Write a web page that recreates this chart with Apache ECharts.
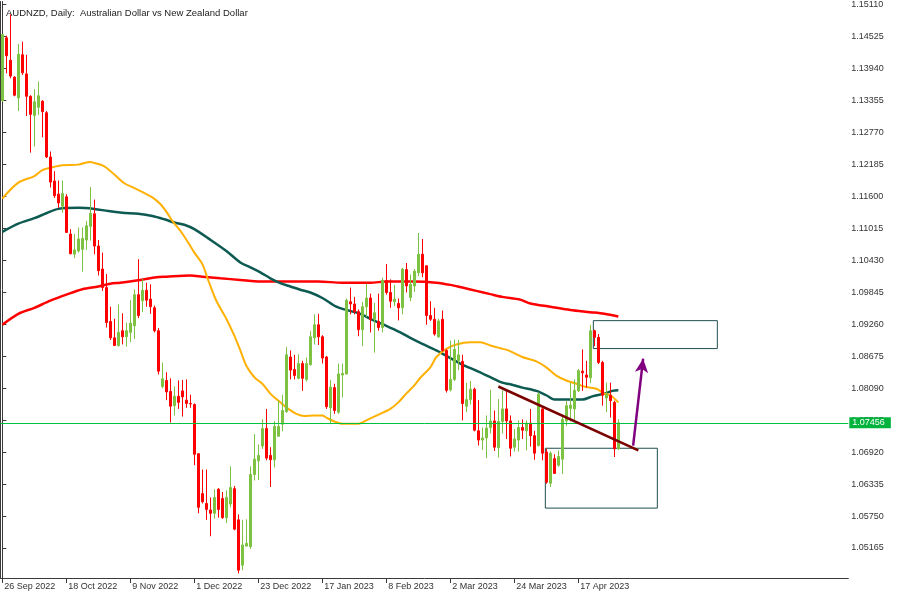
<!DOCTYPE html>
<html>
<head>
<meta charset="utf-8">
<script src="https://cdn.jsdelivr.net/npm/echarts@6/dist/echarts.min.js"></script>
<style>
html,body{margin:0;padding:0;background:#fff;}
#chart{width:900px;height:600px;}
</style>
</head>
<body>
<div id="chart"></div>
<script>
// ---------- DATA ----------
const titleText = 'AUDNZD, Daily:  Australian Dollar vs New Zealand Dollar';
const tickLabels = ['26 Sep 2022','18 Oct 2022','9 Nov 2022','1 Dec 2022','23 Dec 2022','17 Jan 2023','8 Feb 2023','2 Mar 2023','24 Mar 2023','17 Apr 2023'];
const priceLabels = [1.15110,1.14525,1.13940,1.13355,1.12770,1.12185,1.11600,1.11015,1.10430,1.09845,1.09260,1.08675,1.08090,1.07505,1.06920,1.06335,1.05750,1.05165];
const startDate = '2022-09-26';
const holidays = ['2022-12-26'];
const totalSlots = 212;
const currentPrice = 1.07456;

const opens = [1.1335,1.1450,1.1409,1.1378,1.1340,1.1419,1.1384,1.1343,1.1308,1.1323,
1.1334,1.1313,1.1232,1.1188,1.1164,1.1142,1.1159,1.1091,1.1054,1.1060,
1.1063,1.1080,1.1105,1.1128,1.1069,1.1027,1.0993,1.0931,1.0901,1.0887,
1.0914,1.0903,1.0911,1.0923,1.0980,1.0969,1.0988,1.0972,1.0956,1.0914,
1.0812,1.0823,1.0803,1.0777,1.0794,1.0804,1.0787,1.0781,1.0779,1.0689,
1.0616,1.0598,1.0586,1.0580,1.0624,1.0607,1.0572,1.0597,1.0625,1.0568,
1.0485,1.0520,1.0519,1.0651,1.0676,1.0703,1.0735,1.0686,1.0678,1.0721,
1.0743,1.0766,1.0866,1.0843,1.0827,1.0854,1.0825,1.0852,1.0901,1.0925,
1.0903,1.0866,1.0773,1.0810,1.0765,1.0833,1.0835,1.0967,1.0963,1.0949,
1.0916,1.0958,1.0974,1.0935,1.0931,1.0920,1.1006,1.0984,1.0967,1.0964,
1.0956,1.1026,1.0975,1.0996,1.1020,1.1054,1.1033,1.0942,1.0935,1.0903,
1.0935,1.0878,1.0806,1.0825,1.0859,1.0858,1.0776,1.0788,1.0807,1.0731,
1.0714,1.0718,1.0737,1.0749,1.0700,1.0748,1.0771,1.0749,1.0701,1.0714,
1.0737,1.0731,1.0745,1.0722,1.0704,1.0771,1.0692,1.0635,1.0680,1.0668,
1.0679,1.0749,1.0772,1.0771,1.0804,1.0840,1.0833,1.0828,1.0914,1.0902,
1.0856,1.0791,1.0796,1.0783,1.0698];
const highs = [1.1457,1.1454,1.1493,1.1380,1.1439,1.1443,1.1419,1.1345,1.1356,1.1370,
1.1336,1.1316,1.1242,1.1206,1.1189,1.1189,1.1164,1.1100,1.1091,1.1103,
1.1103,1.1115,1.1177,1.1154,1.1080,1.1057,1.1018,1.0958,1.0936,1.0962,
1.0946,1.0929,1.0970,1.0990,1.1045,1.1009,1.1002,1.0999,1.0960,1.0919,
1.0856,1.0838,1.0827,1.0812,1.0823,1.0824,1.0825,1.0797,1.0781,1.0690,
1.0660,1.0660,1.0609,1.0624,1.0626,1.0619,1.0622,1.0666,1.0630,1.0578,
1.0568,1.0569,1.0666,1.0725,1.0706,1.0752,1.0771,1.0701,1.0749,1.0786,
1.0797,1.0884,1.0878,1.0870,1.0871,1.0859,1.0865,1.0913,1.0944,1.0945,
1.0906,1.0868,1.0824,1.0817,1.0854,1.0854,1.0973,1.0993,1.0976,1.0953,
1.0967,1.1000,1.0982,1.0965,1.0982,1.1011,1.1036,1.1008,1.0998,1.0973,
1.1029,1.1038,1.1017,1.1027,1.1093,1.1082,1.1033,1.0968,1.0956,1.0936,
1.0951,1.0880,1.0896,1.0898,1.0897,1.0870,1.0819,1.0822,1.0810,1.0787,
1.0737,1.0759,1.0806,1.0768,1.0789,1.0805,1.0805,1.0759,1.0734,1.0750,
1.0752,1.0750,1.0771,1.0731,1.0801,1.0775,1.0698,1.0693,1.0688,1.0695,
1.0759,1.0786,1.0819,1.0825,1.0844,1.0880,1.0859,1.0925,1.0916,1.0908,
1.0859,1.0819,1.0819,1.0786,1.0752];
const lows = [1.1333,1.1385,1.1376,1.1343,1.1316,1.1382,1.1307,1.1240,1.1251,1.1309,
1.1268,1.1230,1.1176,1.1157,1.1139,1.1130,1.1093,1.1054,1.1047,1.1057,
1.1022,1.1062,1.1079,1.1054,1.1015,1.0987,1.0920,1.0897,1.0886,1.0885,
1.0889,1.0885,1.0893,1.0899,1.0937,1.0948,1.0958,1.0945,1.0911,1.0834,
1.0809,1.0787,1.0746,1.0759,1.0771,1.0757,1.0773,1.0773,1.0668,1.0580,
1.0598,1.0568,1.0538,1.0570,1.0572,1.0570,1.0562,1.0591,1.0549,1.0470,
1.0476,1.0519,1.0515,1.0640,1.0641,1.0698,1.0677,1.0628,1.0664,1.0720,
1.0730,1.0764,1.0825,1.0825,1.0825,1.0804,1.0821,1.0850,1.0889,1.0888,
1.0854,1.0771,1.0743,1.0762,1.0762,1.0792,1.0834,1.0944,1.0944,1.0904,
1.0886,1.0939,1.0911,1.0874,1.0914,1.0911,1.0980,1.0956,1.0959,1.0933,
1.0944,1.0984,1.0968,1.0985,1.1014,1.1012,1.0925,1.0932,1.0905,1.0901,
1.0876,1.0801,1.0803,1.0822,1.0842,1.0750,1.0765,1.0779,1.0730,1.0704,
1.0696,1.0681,1.0726,1.0694,1.0682,1.0726,1.0716,1.0684,1.0693,1.0693,
1.0716,1.0695,1.0702,1.0678,1.0702,1.0677,1.0634,1.0628,1.0652,1.0665,
1.0652,1.0740,1.0748,1.0750,1.0802,1.0804,1.0810,1.0818,1.0886,1.0853,
1.0777,1.0765,1.0755,1.0683,1.0696];
const closes = [1.1456,1.1417,1.1380,1.1345,1.1420,1.1386,1.1343,1.1310,1.1333,1.1344,
1.1315,1.1232,1.1186,1.1161,1.1148,1.1165,1.1094,1.1055,1.1062,1.1082,
1.1083,1.1106,1.1129,1.1069,1.1024,1.0993,1.0929,1.0901,1.0887,1.0911,
1.0903,1.0914,1.0928,1.0980,1.0942,1.0988,1.0970,1.0958,1.0914,1.0840,
1.0826,1.0802,1.0776,1.0794,1.0783,1.0793,1.0781,1.0780,1.0688,1.0591,
1.0601,1.0587,1.0580,1.0609,1.0587,1.0572,1.0609,1.0627,1.0551,1.0476,
1.0522,1.0525,1.0651,1.0679,1.0686,1.0735,1.0681,1.0678,1.0739,1.0739,
1.0768,1.0870,1.0842,1.0832,1.0854,1.0827,1.0854,1.0903,1.0925,1.0903,
1.0864,1.0775,1.0811,1.0768,1.0835,1.0836,1.0970,1.0963,1.0949,1.0916,
1.0958,1.0974,1.0935,1.0947,1.0920,1.1006,1.0984,1.0968,1.0972,1.0956,
1.1027,1.0996,1.0999,1.1023,1.1054,1.1020,1.0942,1.0935,1.0908,1.0932,
1.0878,1.0805,1.0825,1.0880,1.0870,1.0781,1.0788,1.0807,1.0732,1.0714,
1.0718,1.0736,1.0749,1.0701,1.0748,1.0771,1.0749,1.0699,1.0716,1.0737,
1.0732,1.0745,1.0722,1.0690,1.0798,1.0690,1.0637,1.0690,1.0653,1.0684,
1.0752,1.0777,1.0778,1.0805,1.0841,1.0837,1.0829,1.0914,1.0902,1.0856,
1.0796,1.0797,1.0786,1.0698,1.07456];

// moving averages: [bar index, price]
const maFast = [[0,1.1156],[4,1.1185],[8,1.1197],[10,1.1208],[13,1.1214],[15,1.1217],[19,1.1218],[22,1.1223],[23,1.1221],[25.5,1.1215],
[28,1.1200],[30.5,1.1184],[33,1.1175],[35.5,1.1166],[37.5,1.1158],[39.5,1.1146],[41,1.1132],[42.5,1.1115],[44.5,1.1097],[46.5,1.1075],
[48,1.1057],[50,1.1036],[51.5,1.1006],[53.5,1.0969],
[56,1.0936],[58,1.0905],[59.5,1.0878],[61,1.0850],[63,1.0829],[65,1.0817],[67,1.0799],[69.5,1.0783],[71.5,1.0771],[73.5,1.0762],
[75.5,1.0758],[78,1.0759],[80,1.0759],[81,1.0755],[83,1.0748],[85,1.0744],[89,1.0744],[91.5,1.0752],[94.5,1.0762],[97,1.0771],
[99,1.0783],[101,1.0799],[103,1.0814],[104.5,1.0828],[107,1.0847],[108.5,1.0866],[111,1.0881],[113.5,1.0889],[117,1.0893],[119.5,1.0893],
[122,1.0887],[124.5,1.0882],[126.5,1.0878],[130,1.0866],[133.5,1.0858],[136,1.0847],[138.5,1.0832],[141,1.0823],[143.5,1.0817],[146,1.0811],
[148.5,1.0808],[150.5,1.0799],[152,1.0796],[154,1.0783]];
const maMid = [[0,1.1095],[4,1.1110],[8,1.1120],[11,1.1129],[14,1.1137],[19,1.1139],[23,1.1137],[26.5,1.1133],[30,1.1130],[34,1.1128],
[37.5,1.1124],[40.5,1.1118],[43,1.1112],[45.5,1.1108],[48,1.1100],[51.5,1.1083],[56,1.1060],[59.5,1.1039],[62,1.1030],[64.5,1.1021],
[67,1.1010],[69.5,1.1001],[72,1.0995],
[74.5,1.0989],[77,1.0984],[80,1.0974],[83.5,1.0958],[86,1.0952],[89.5,1.0945],[92.5,1.0934],[96,1.0923],[99.5,1.0911],[102,1.0901],
[105,1.0890],[108.5,1.0878],[112,1.0864],[115,1.0852],[118.5,1.0841],[122,1.0829],[125,1.0819],[127,1.0816],[130,1.0810],[133.5,1.0804],
[136,1.0796],[138,1.0788],[142,1.0788],[145,1.0788],[147.5,1.0794],[150.5,1.0799],[152.5,1.0804],[154,1.0805]];
const maSlow = [[0,1.0925],[4,1.0945],[8,1.0956],[12,1.0969],[16,1.0980],[20,1.0990],[24,1.0995],[27,1.1000],[29.5,1.1002],[34.5,1.1007],
[38.5,1.1012],[41,1.1013],[47,1.1015],[50,1.1013],[54.5,1.1010],[59.5,1.1007],[64.5,1.1004],[71,1.1004],[79,1.1004],[85,1.1002],
[92,1.1002],[96,1.1004],[103,1.1004],[108.5,1.1002],[112,1.0998],[115,1.0993],[118.5,1.0987],[122,1.0981],[125,1.0976],[129.5,1.0971],
[132,1.0964],[137,1.0958],[142,1.0952],[147,1.0948],[150.5,1.0945],[154,1.0940]];

// drawn objects (bar index, price)
const trendLine = [[124,1.0812],[159,1.0695]];
const arrowLine = [[157.7,1.0704],[160.2,1.0863]];
const upperBox = [[147.75,1.09325],[178.75,1.08814]];
const lowerBox = [[135.75,1.06990],[163.75,1.05895]];

// ---------- BUILD ----------
const MONTHS = ['Jan','Feb','Mar','Apr','May','Jun','Jul','Aug','Sep','Oct','Nov','Dec'];
function tradingDays(start, n, skip){
  const out = [];
  const d = new Date(start + 'T00:00:00Z');
  while (out.length < n){
    const wd = d.getUTCDay();
    const iso = d.toISOString().slice(0,10);
    if (wd !== 0 && wd !== 6 && skip.indexOf(iso) < 0){
      out.push(d.getUTCDate() + ' ' + MONTHS[d.getUTCMonth()] + ' ' + d.getUTCFullYear());
    }
    d.setUTCDate(d.getUTCDate() + 1);
  }
  return out;
}
const categories = tradingDays(startDate, totalSlots, holidays);
const candleData = opens.map((o,i)=>[o, closes[i], lows[i], highs[i]]);

const FONT = 'Liberation Sans, Arial, sans-serif';
const AXIS = '#3a3a3a';
const yMin = 1.04616, yMax = 1.15165;
const xMin = -0.5, xMax = totalSlots - 0.5;
const isTick = (idx, val) => tickLabels.indexOf(val) >= 0;

const chart = echarts.init(document.getElementById('chart'), null, {renderer:'canvas'});
chart.setOption({
  animation:false,
  backgroundColor:'#ffffff',
  title:{text:titleText,left:1,top:3,textStyle:{fontFamily:FONT,fontSize:9.5,fontWeight:'normal',color:'#222'}},
  grid:{left:0.33,right:51.67,top:0,bottom:22,containLabel:false},
  xAxis:[{
    type:'category',data:categories,boundaryGap:true,
    axisLine:{show:true,lineStyle:{color:AXIS,width:1}},
    axisTick:{show:true,interval:isTick,alignWithLabel:true,length:5,lineStyle:{color:AXIS}},
    axisLabel:{show:true,interval:isTick,align:'left',margin:4,padding:[0,0,0,2],fontFamily:FONT,fontSize:9,color:'#333'},
    splitLine:{show:false}
  },{
    type:'value',min:xMin,max:xMax,show:false
  }],
  yAxis:[{
    type:'value',position:'right',min:yMin,max:yMax,scale:true,
    axisLine:{show:true,lineStyle:{color:AXIS,width:1}},
    axisTick:{show:true,length:4,customValues:priceLabels,lineStyle:{color:AXIS}},
    axisLabel:{show:true,customValues:priceLabels,margin:3,fontFamily:FONT,fontSize:9,color:'#333',formatter:v=>v.toFixed(5)},
    splitLine:{show:false}
  },{
    type:'value',position:'left',min:yMin,max:yMax,
    axisLine:{show:true,lineStyle:{color:AXIS,width:1}},
    axisTick:{show:false},axisLabel:{show:false},splitLine:{show:false}
  }],
  series:[
    {type:'line',xAxisIndex:1,data:maSlow,symbol:'none',smooth:0.3,lineStyle:{color:'#ff0000',width:2.5},z:3},
    {type:'line',xAxisIndex:1,data:maMid,symbol:'none',smooth:0.3,lineStyle:{color:'#0d5a52',width:2.5},z:3},
    {type:'line',xAxisIndex:1,data:maFast,symbol:'none',smooth:0.3,lineStyle:{color:'#ffb000',width:2},z:3},
    {
      type:'line',xAxisIndex:1,data:[],z:2,
      markLine:{
        silent:true,symbol:'none',precision:5,
        lineStyle:{color:'#00c040',width:1,type:'solid'},
        label:{show:true,position:'end',distance:1,formatter:()=>currentPrice.toFixed(5),
          backgroundColor:'#00b33c',color:'#ffffff',fontFamily:FONT,fontSize:9,lineHeight:10,padding:[1,6,0,3]},
        data:[[{coord:[xMin,currentPrice]},{coord:[xMax,currentPrice]}]]
      }
    },
    {
      type:'candlestick',data:candleData,barWidth:2,z:4,
      itemStyle:{color:'#7dc242',color0:'#ff0000',borderColor:'#7dc242',borderColor0:'#ff0000',borderWidth:1}
    },
    {
      type:'line',xAxisIndex:1,data:[],z:5,
      markLine:{silent:true,symbol:'none',precision:5,label:{show:false},
        lineStyle:{color:'#7a0000',width:2.5,type:'solid'},
        data:[[{coord:trendLine[0]},{coord:trendLine[1]}]]},
      markArea:{silent:true,
        itemStyle:{color:'rgba(0,0,0,0)',borderColor:'#1f4f4f',borderWidth:1},
        data:[[{coord:upperBox[0]},{coord:upperBox[1]}],[{coord:lowerBox[0]},{coord:lowerBox[1]}]]}
    },
    {
      type:'line',xAxisIndex:1,data:[],z:6,
      markLine:{silent:true,symbol:['none','arrow'],symbolSize:[10,14],precision:5,label:{show:false},
        lineStyle:{color:'#800080',width:2.5,type:'solid'},
        data:[[{coord:arrowLine[0]},{coord:arrowLine[1]}]]}
    }
  ]
});
</script>
</body>
</html>
